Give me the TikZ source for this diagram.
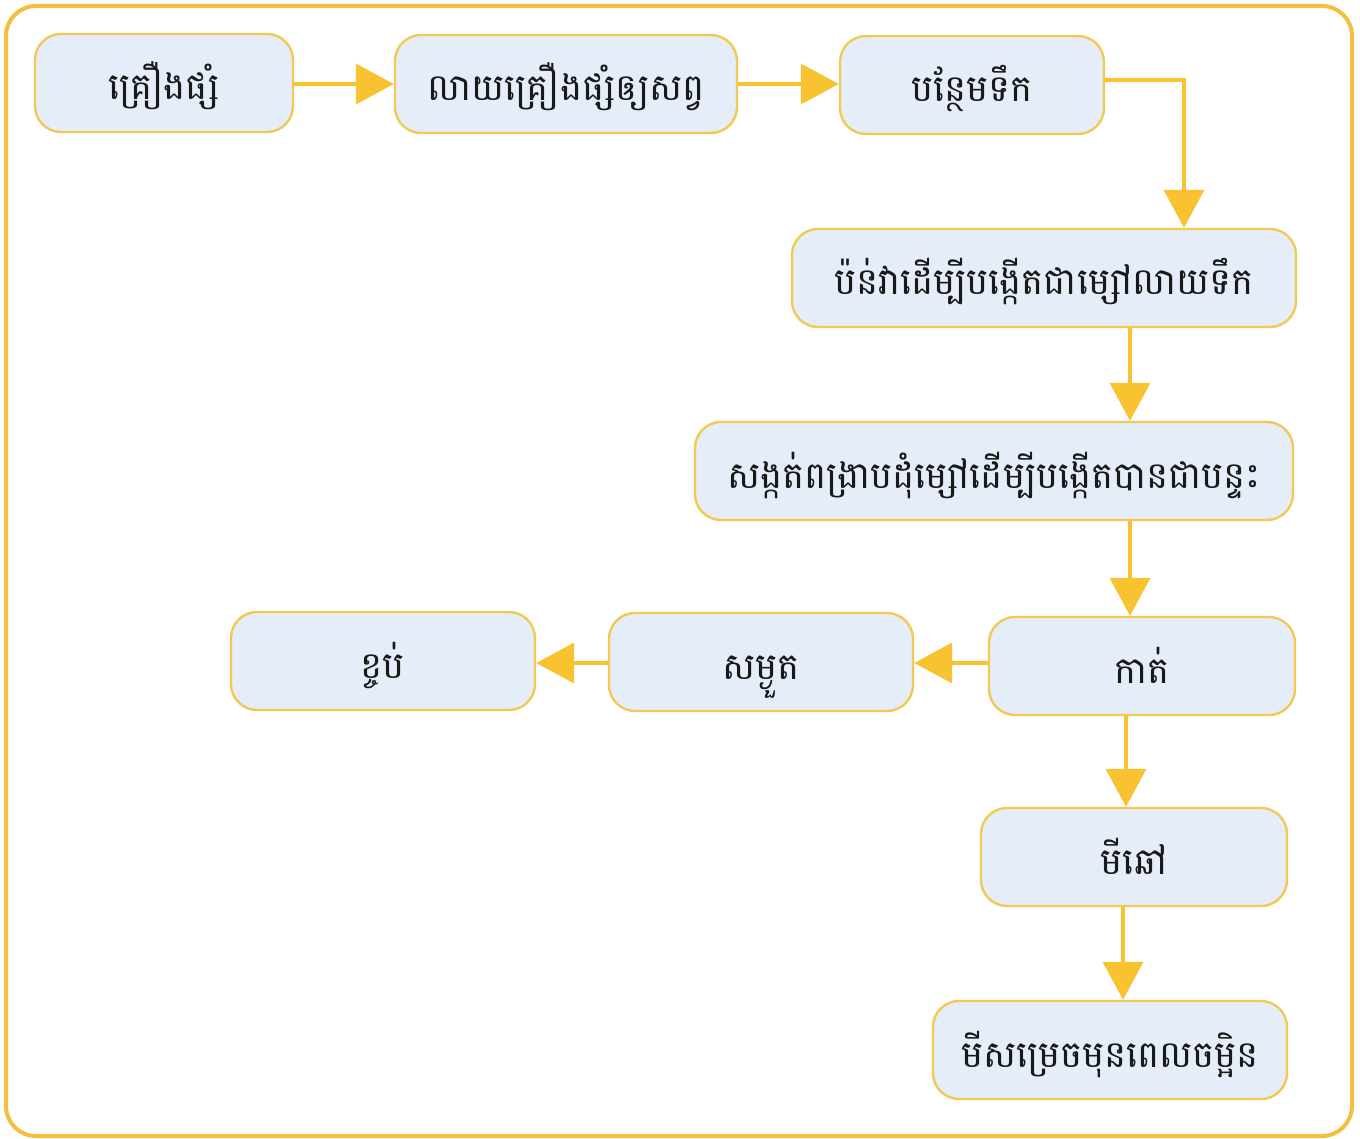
\documentclass[tikz,border=0pt]{standalone}
\usepackage{fontspec}
\newfontfamily\khmer[Script=Khmer]{Battambang}
\usetikzlibrary{arrows.meta}
\definecolor{frameorange}{HTML}{F6BE3E}
\definecolor{boxedge}{HTML}{F3C956}
\definecolor{boxfill}{HTML}{E4EDF8}
\definecolor{flow}{HTML}{F8C230}
\tikzset{
  stepbox/.style={draw=boxedge, line width=1.2pt, fill=boxfill, rounded corners=13pt,
    inner sep=0pt, text height=20pt, text depth=3pt,
    font=\khmer\fontsize{18.5}{21}\selectfont, text=black!90},
  flowline/.style={draw=flow, line width=2pt,
    -{Triangle[length=19pt,width=20pt]}},
}
\begin{document}
\begin{tikzpicture}[x=0.5pt,y=-0.5pt]
  \useasboundingbox (0,0) rectangle (1360,1139);
  % outer frame
  \draw[frameorange, line width=2pt, fill=white, rounded corners=15pt] (6,6) rectangle (1352,1136);

  % process steps
  \node[stepbox, minimum width=129pt, minimum height=49pt] (ingr) at (164,83) {គ្រឿងផ្សំ};
  \node[stepbox, minimum width=171pt, minimum height=49pt] (mix) at (566,84) {លាយគ្រឿងផ្សំឲ្យសព្វ};
  \node[stepbox, minimum width=132pt, minimum height=49pt] (water) at (972,85) {បន្ថែមទឹក};
  \node[stepbox, minimum width=252pt, minimum height=49pt] (knead) at (1044,278) {ប៉ន់វាដើម្បីបង្កើតជាម្សៅលាយទឹក};
  \node[stepbox, minimum width=299pt, minimum height=49pt] (press) at (994,471) {សង្កត់ពង្រាបដុំម្សៅដើម្បីបង្កើតបានជាបន្ទះ};
  \node[stepbox, minimum width=153pt, minimum height=49pt] (cut) at (1142,666) {កាត់};
  \node[stepbox, minimum width=152pt, minimum height=49pt] (dry) at (761,662) {សម្ងួត};
  \node[stepbox, minimum width=152pt, minimum height=49pt] (pack) at (383,661) {ខ្ចប់};
  \node[stepbox, minimum width=153pt, minimum height=49pt] (raw) at (1134,857) {មីឆៅ};
  \node[stepbox, minimum width=177pt, minimum height=49pt] (instant) at (1110,1050) {មីសម្រេចមុនពេលចម្អិន};

  % connectors
  \draw[flowline] (ingr.east |- 0,84) -- (mix.west |- 0,84);
  \draw[flowline] (mix.east |- 0,84) -- (water.west |- 0,84);
  \draw[flowline] (water.east |- 0,80) -| (knead.north -| 1184,0);
  \draw[flowline] (knead.south -| 1130,0) -- (press.north -| 1130,0);
  \draw[flowline] (press.south -| 1130,0) -- (cut.north -| 1130,0);
  \draw[flowline] (cut.west |- 0,663) -- (dry.east |- 0,663);
  \draw[flowline] (dry.west |- 0,663) -- (pack.east |- 0,663);
  \draw[flowline] (cut.south -| 1126,0) -- (raw.north -| 1126,0);
  \draw[flowline] (raw.south -| 1123,0) -- (instant.north -| 1123,0);
\end{tikzpicture}
\end{document}
